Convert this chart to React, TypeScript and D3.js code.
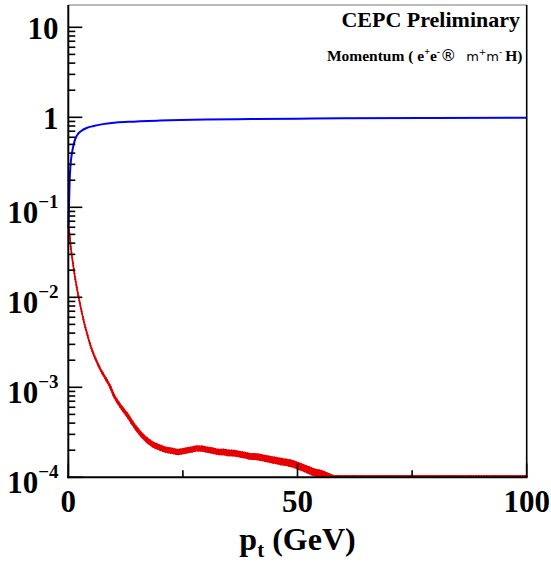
import React from "react";
import * as d3 from "d3";

const W = 551;
const H = 562;

// Blue curve (pt in GeV, value)
const bluePt = [0.05, 0.15, 0.3, 0.5, 0.8, 1.3, 1.9, 2.9, 4.0, 5.5, 7.5, 10, 13, 20, 30, 40, 50, 60, 80, 100];
const blueVal = [0.06, 0.1, 0.2, 0.3, 0.4, 0.53, 0.63, 0.71, 0.76, 0.8, 0.84, 0.87, 0.89, 0.92, 0.945, 0.955, 0.965, 0.975, 0.985, 0.99];

// Red curve (pt in GeV, value) — 0 means below the axis range
const redPt = [0.1, 0.3, 0.6, 1.0, 1.5, 2.0, 2.5, 3.0, 3.5, 4.0, 5, 6, 7, 8, 9, 10, 11, 12, 13, 14, 15, 16, 17, 18, 19, 20, 21, 22, 23, 24, 25, 26, 27, 28, 29, 30, 31, 32, 33, 34, 35, 36, 37, 38, 39, 40, 41, 42, 43, 44, 45, 46, 47, 48, 49, 50, 51, 52, 53, 54, 55, 56, 57, 58, 100];
const redVal = [0.06, 0.048, 0.034, 0.024, 0.0162, 0.0117, 0.0087, 0.0066, 0.0051, 0.0041, 0.00275, 0.00204, 0.00158, 0.00129, 0.00105, 0.0008, 0.00066, 0.00056, 0.00048, 0.0004, 0.00034, 0.000295, 0.000263, 0.00024, 0.000224, 0.000214, 0.000204, 0.0002, 0.000195, 0.000191, 0.000195, 0.0002, 0.000204, 0.000209, 0.000209, 0.000204, 0.0002, 0.000195, 0.000191, 0.000191, 0.000186, 0.000186, 0.000182, 0.000178, 0.000174, 0.00017, 0.00017, 0.000166, 0.000162, 0.000158, 0.000155, 0.000151, 0.000148, 0.000145, 0.000141, 0.000135, 0.000129, 0.000123, 0.000117, 0.000112, 0.00011, 0.000105, 0.0001, 0, 0];
// Visible half-width of the fluctuation band (decades)
const redSpread = [0.004, 0.004, 0.004, 0.004, 0.004, 0.004, 0.004, 0.004, 0.005, 0.005, 0.006, 0.007, 0.009, 0.011, 0.012, 0.014, 0.016, 0.018, 0.02, 0.02, 0.022, 0.023, 0.024, 0.025, 0.026, 0.026, 0.026, 0.026, 0.026, 0.026, 0.026, 0.026, 0.026, 0.026, 0.026, 0.026, 0.027, 0.027, 0.027, 0.028, 0.028, 0.028, 0.028, 0.029, 0.029, 0.029, 0.03, 0.03, 0.03, 0.031, 0.031, 0.032, 0.032, 0.033, 0.033, 0.034, 0.034, 0.035, 0.035, 0.035, 0.035, 0.035, 0.035, 0, 0];

const xTicksMajor = [0, 50, 100];
const xTicksMinor = [25, 75];
const yExps = [1, 0, -1, -2, -3, -4];

const titleText = "CEPC Preliminary";

type RP = { p: number; v: number; s: number };

export default function App() {
  const left = 68.3, right = 526.7, top = 5, bottom = 477.3;
  const x = d3.scaleLinear().domain([0, 100]).range([left, right]);
  const y = d3.scaleLog().domain([1e-4, Math.pow(10, 1.2478)]).range([bottom, top]);
  const floorY = bottom - 1.3;
  const yc = (v: number) => (v <= 1e-4 ? floorY : Math.max(top, y(v)));

  const blueData = bluePt.map((p, i) => [p, blueVal[i]] as [number, number]);
  const blueLine = d3.line<[number, number]>().x(d => x(d[0])).y(d => y(d[1])).curve(d3.curveMonotoneX)(blueData) || "";

  const redData: RP[] = redPt.map((p, i) => ({ p, v: redVal[i], s: redSpread[i] }));
  const redArea = d3.area<RP>()
    .x(d => x(d.p))
    .y0(d => (d.v <= 0 ? floorY : Math.min(floorY, yc(d.v * Math.pow(10, -d.s)))))
    .y1(d => (d.v <= 0 ? floorY : yc(d.v * Math.pow(10, d.s))))
    .curve(d3.curveMonotoneX)(redData) || "";
  const redLine = d3.line<RP>()
    .x(d => x(d.p)).y(d => (d.v <= 0 ? floorY : yc(d.v)))
    .curve(d3.curveMonotoneX)(redData) || "";

  const minorY: number[] = [];
  for (let e = -4; e <= 1; e++) {
    for (let k = 2; k <= 9; k++) {
      const v = k * Math.pow(10, e);
      if (v <= Math.pow(10, 1.2478)) minorY.push(v);
    }
  }

  const font = "'Liberation Serif', 'Times New Roman', serif";
  const sans = "'DejaVu Sans', sans-serif";

  return (
    <svg width={W} height={H} style={{ position: "absolute", left: 0, top: 0, background: "#fff" }} fontFamily={font}>
      <rect x={0} y={0} width={W} height={H} fill="#fff" />
      {/* curves */}
      <path d={redArea} fill="#ee0000" stroke="#ee0000" strokeWidth={1.4} />
      <path d={redArea} fill="none" stroke="#e00000" strokeWidth={1.8} strokeDasharray="1.5 1 2 1.2 1 1.5" />
      <path d={redLine} fill="none" stroke="#8a0000" strokeWidth={0.9} strokeOpacity={0.55} strokeDasharray="1 1.6" />
      <path d={blueLine} fill="none" stroke="#0000ff" strokeWidth={2} />

      {/* frame */}
      <line x1={left} x2={right} y1={top} y2={top} stroke="#777" strokeWidth={1} />
      <line x1={right} x2={right} y1={top} y2={bottom} stroke="#000" strokeWidth={1.6} />
      <line x1={left} x2={left} y1={top} y2={bottom + 1} stroke="#000" strokeWidth={2} />
      <line x1={left - 1} x2={right + 0.8} y1={bottom} y2={bottom} stroke="#000" strokeWidth={2} />

      {/* y ticks */}
      {yExps.map(e => (
        <line key={"ym" + e} x1={left} x2={left + 14} y1={y(Math.pow(10, e))} y2={y(Math.pow(10, e))} stroke="#000" strokeWidth={1.6} />
      ))}
      {minorY.map((v, i) => (
        <line key={"yn" + i} x1={left} x2={left + 7} y1={y(v)} y2={y(v)} stroke="#000" strokeWidth={1.6} />
      ))}
      {/* x ticks */}
      {xTicksMajor.map(t => (
        <line key={"xm" + t} x1={x(t)} x2={x(t)} y1={bottom} y2={bottom - 14} stroke="#000" strokeWidth={1.6} />
      ))}
      {xTicksMinor.map(t => (
        <line key={"xn" + t} x1={x(t)} x2={x(t)} y1={bottom} y2={bottom - 7} stroke="#000" strokeWidth={1.6} />
      ))}

      {/* y tick labels */}
      {yExps.map(e => {
        const ty = y(Math.pow(10, e));
        if (e === 1) return <text key={"yl" + e} x={58.5} y={ty + 11.5} textAnchor="end" fontSize={31} fontWeight="bold">10</text>;
        if (e === 0) return <text key={"yl" + e} x={58.5} y={ty + 11.5} textAnchor="end" fontSize={31} fontWeight="bold">1</text>;
        return (
          <text key={"yl" + e} x={58.5} y={ty + 15.4} textAnchor="end" fontSize={31} fontWeight="bold">
            10<tspan fontSize={19} dy={-14.5}>{"\u2212" + String(-e)}</tspan>
          </text>
        );
      })}

      {/* x tick labels */}
      {xTicksMajor.map(t => (
        <text key={"xl" + t} x={x(t)} y={511.5} textAnchor="middle" fontSize={31} fontWeight="bold">{String(t)}</text>
      ))}

      {/* x axis title */}
      <text x={x(50)} y={550} textAnchor="middle" fontSize={32} fontWeight="bold">
        p<tspan fontSize={21} dy={7}>t</tspan><tspan dy={-7}> (GeV)</tspan>
      </text>

      {/* titles */}
      <text x={520} y={27} textAnchor="end" fontSize={22} fontWeight="bold">{titleText}</text>
      <text x={522.5} y={61} textAnchor="end" fontSize={15.5} fontWeight="bold">
        Momentum ( e<tspan fontSize={10} dy={-6}>+</tspan><tspan dy={6}>e</tspan><tspan fontSize={10} dy={-6}>-</tspan>
        <tspan dy={6} fontFamily={sans} fontWeight="normal" fontSize={16}>{"\u00AE"}</tspan>
        <tspan dx={10} fontFamily={sans} fontWeight="normal" fontSize={13}>m</tspan>
        <tspan fontFamily={sans} fontWeight="normal" fontSize={9} dy={-6}>+</tspan>
        <tspan fontFamily={sans} fontWeight="normal" fontSize={13} dy={6}>m</tspan>
        <tspan fontFamily={sans} fontWeight="normal" fontSize={9} dy={-6}>-</tspan>
        <tspan dy={6} dx={3}>H)</tspan>
      </text>
    </svg>
  );
}
